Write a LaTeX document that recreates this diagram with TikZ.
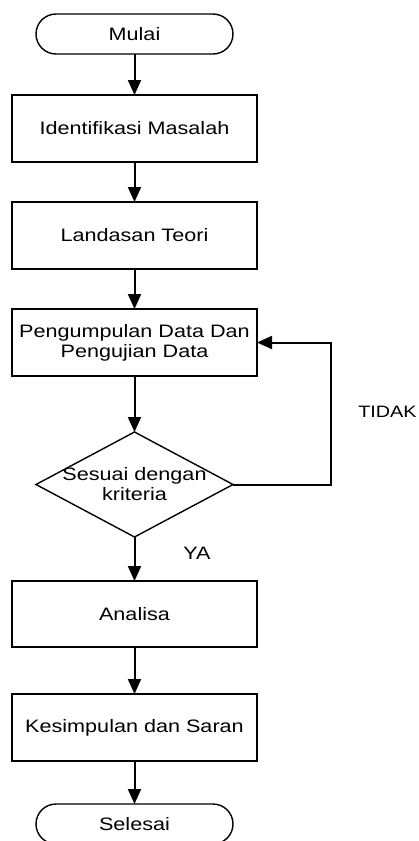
\documentclass[tikz,border=0pt]{standalone}
\usepackage{fontspec}
\setmainfont{Liberation Sans}[FakeStretch=1.2]
\usetikzlibrary{arrows.meta,positioning,shapes.geometric}
\tikzset{
    %Define standard arrow tip
    >={Triangle[length=15pt,width=13pt]},
    %Define style for boxes
    proses/.style={
           rectangle,
           draw=black, line width=1.4pt,
           outer sep=0pt,
           minimum width=245pt,
           minimum height=67pt,
           inner sep=2pt,
           font=\fontsize{18pt}{20pt}\selectfont,
           align=center},
    terminal/.style={
           rectangle,
           rounded corners=20pt,
           draw=black, line width=1.4pt,
           outer sep=0pt,
           minimum width=197pt,
           minimum height=40pt,
           font=\fontsize{18pt}{20pt}\selectfont,
           align=center},
    keputusan/.style={
           diamond,
           draw=black, line width=1.4pt,
           outer sep=0pt,
           inner sep=0pt,
           minimum width=197pt,
           minimum height=105pt},
    teks/.style={
           font=\fontsize{18pt}{20pt}\selectfont,
           align=center,
           inner sep=0pt},
    % Define arrow style
    pil/.style={
           ->,
           line width=2pt}
}
\begin{document}
\begin{tikzpicture}
\useasboundingbox (0pt,0pt) rectangle (418pt,-841pt);
 %nodes
\node[terminal] (mulai) at (134.5pt,-34pt) {Mulai};
\node[proses, below=41pt of mulai] (identifikasi) {Identifikasi Masalah};
\node[proses, below=40pt of identifikasi] (landasan) {Landasan Teori};
\node[proses, below=40pt of landasan] (pengumpulan) {Pengumpulan Data Dan\\Pengujian Data};
\node[keputusan, below=56pt of pengumpulan] (cek) {};
\node[teks] (cekteks) at (cek.center) {Sesuai dengan\\kriteria};
\node[proses, below=44pt of cek, minimum height=66pt] (analisa) {Analisa};
\node[proses, below=47pt of analisa] (kesimpulan) {Kesimpulan dan Saran};
\node[terminal, below=43pt of kesimpulan] (selesai) {Selesai};
\coordinate (balik) at (331pt,0pt);
\node[teks, font=\fontsize{16.5pt}{18pt}\selectfont] (tidak) at (387.5pt,-412pt) {TIDAK};
\node[teks] (ya) at (197pt,-553pt) {YA};
 %arrows
\draw[pil] (mulai) -- (identifikasi);
\draw[pil] (identifikasi) -- (landasan);
\draw[pil] (landasan) -- (pengumpulan);
\draw[pil] (pengumpulan) -- (cek);
\draw[pil] (cek) -- (analisa);
\draw[pil] (analisa) -- (kesimpulan);
\draw[pil] (kesimpulan) -- (selesai);
\draw[pil] (cek.east) -- (cek.east -| balik) |- (pengumpulan.east);
\end{tikzpicture}
\end{document}
